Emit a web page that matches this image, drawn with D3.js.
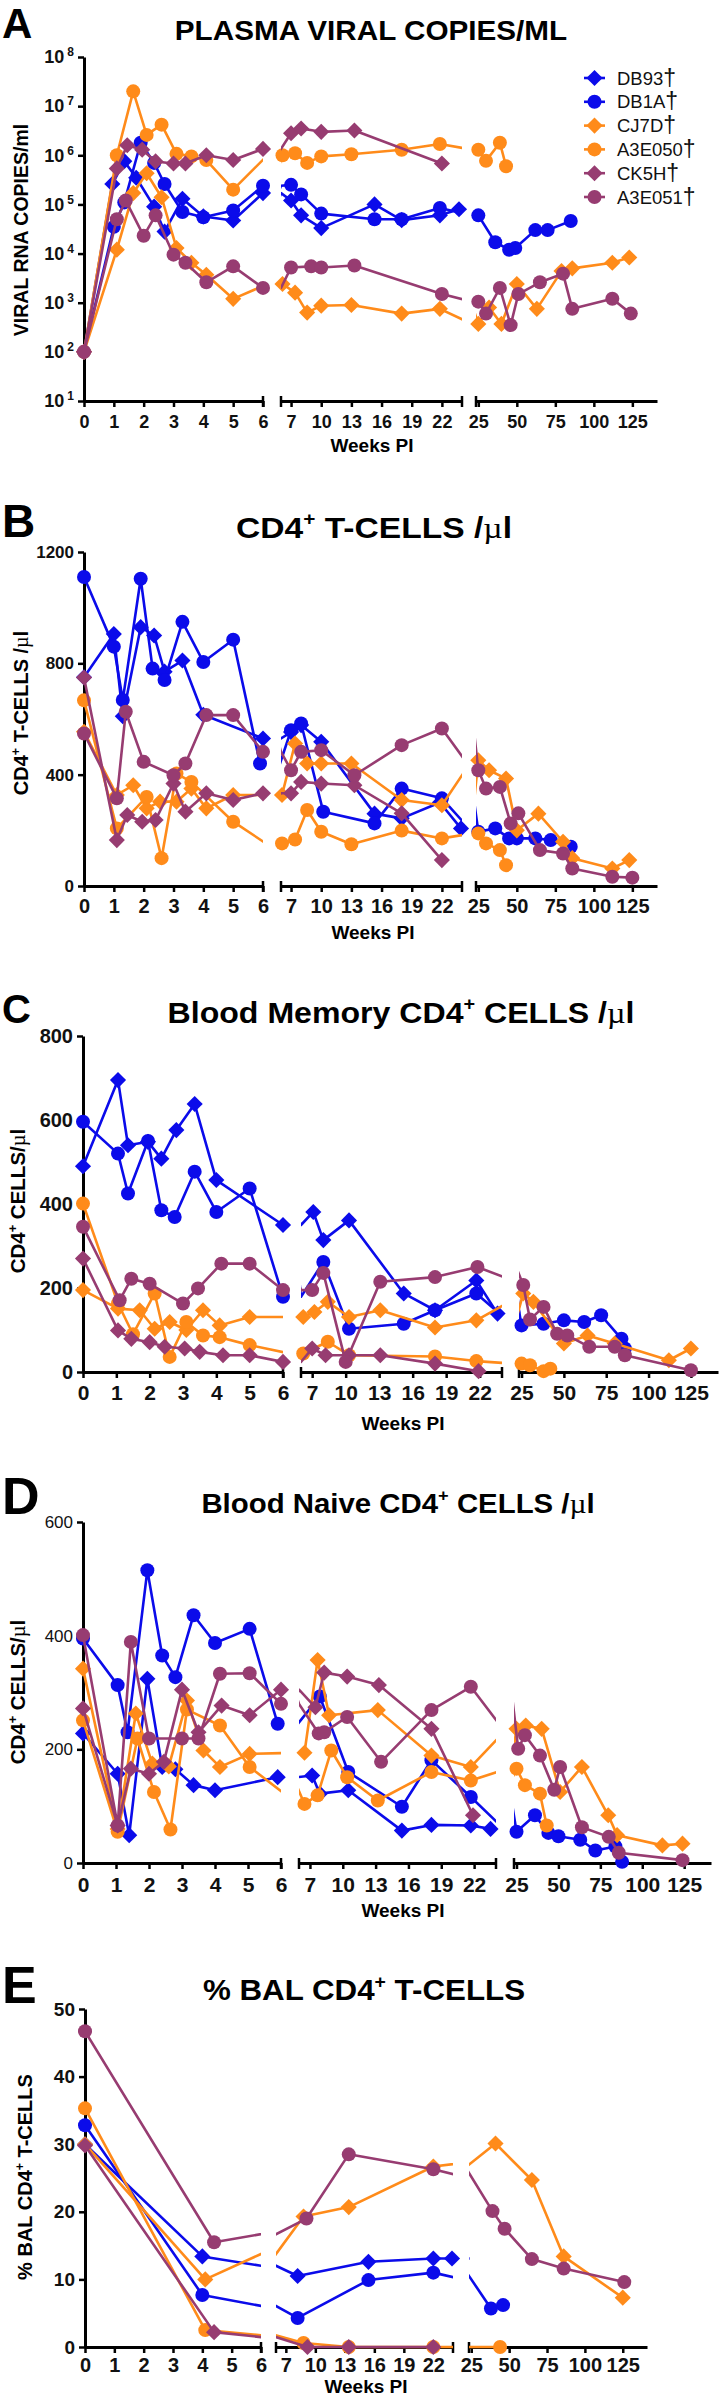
<!DOCTYPE html>
<html>
<head>
<meta charset="utf-8">
<script src="https://cdn.jsdelivr.net/npm/d3@7"></script>
<style>
  body { margin: 0; background: #fff; }
  svg { display: block; font-family: Arial, "Liberation Sans", sans-serif; }
</style>
</head>
<body>
<div id="chart"></div>
<script>
// animals, in legend order
var animals = ["DB93", "DB1A", "CJ7D", "A3E050", "CK5H", "A3E051"];

// x axis is broken in three pieces (weeks post infection)
var segDomains = [[0, 6], [6, 24], [23.5, 141]];
var segTicks = [[0, 1, 2, 3, 4, 5, 6], [7, 10, 13, 16, 19, 22], [25, 50, 75, 100, 125]];

// A: plasma viral RNA copies/ml  [week, copies]
var plasmaDB93 = [[0,1e2],[0.95,2.6e5],[1.35,7.6e5],[1.75,3.5e5],[2.35,9e4],[2.7,2.8e4],[3.3,1.3e5],[4,5.7e4],[5,4.7e4],[6,1.7e5],[7,1.2e5],[8,6e4],[10,3.3e4],[15.3,1e5],[18,4.8e4],[21.8,6e4],[23.7,8e4]];
var plasmaDB1A = [[0,1e2],[1,3.5e4],[1.35,1.1e5],[1.9,1.8e6],[2.35,7e5],[2.7,2.6e5],[3.3,7e4],[4,5.5e4],[5,7.5e4],[6,2.4e5],[7,2.5e5],[8,1.6e5],[10,6.5e4],[15.3,5e4],[18,5e4],[21.8,8.5e4],[25,6e4],[36,1.7e4],[45,1.2e4],[49,1.3e4],[62,3e4],[70,3e4],[85,4.6e4]];
var plasmaCJ7D = [[0,1e2],[1.1,1.2e4],[1.65,1.7e5],[2.1,4.3e5],[2.6,1.4e5],[3.1,1.3e4],[3.6,6.5e3],[4.1,3.7e3],[5,1.2e3],[6.15,2.4e3],[7.4,1.6e3],[8.6,6.3e2],[10,8.7e2],[13,9e2],[18,6e2],[21.8,7.5e2],[25,3.7e2],[32,8e2],[40,3.7e2],[50,2.4e3],[63,7.5e2],[79,4.4e3],[86,5e3],[112,6.5e3],[123,8.3e3]];
var plasmaA3E050 = [[0,1e2],[1.1,1e6],[1.65,2e7],[2.1,2.6e6],[2.6,4.2e6],[3.1,1.07e6],[3.6,9.5e5],[4.1,8e5],[5,2e5],[6.15,1e6],[7.4,1.1e6],[8.6,7e5],[10,9.5e5],[13,1.05e6],[18,1.3e6],[21.8,1.7e6],[25,1.3e6],[30,7.7e5],[39,1.8e6],[43,6e5]];
var plasmaCK5H = [[0,1e2],[1.1,5.4e5],[1.45,1.6e6],[1.95,1.3e6],[2.4,7.5e5],[3,6.8e5],[3.4,6.8e5],[4.1,1e6],[5,8e5],[6,1.35e6],[7,2.8e6],[8,3.5e6],[10,3e6],[13.3,3.2e6],[22,6.8e5]];
var plasmaA3E051 = [[0,1e2],[1.1,5e4],[1.4,1.2e5],[2,2.3e4],[2.4,6e4],[3,9.5e3],[3.4,6.5e3],[4.1,2.6e3],[5,5.5e3],[6,2e3],[7,5.2e3],[9,5.5e3],[10,5.2e3],[13.3,5.7e3],[22,1.5e3],[25,1.05e3],[30,6e2],[39,2e3],[46,3.5e2],[51,1.5e3],[65,2.6e3],[80,3.9e3],[86,7.5e2],[112,1.2e3],[124,6e2]];

// B: CD4+ T-cells /ul
var cd4DB93 = [[0,750],[1,905],[1.3,610],[1.9,930],[2.35,900],[2.7,770],[3.3,810],[4,615],[6,530],[7,553],[8,578],[10,518],[15.3,260],[18,243],[21.8,300],[23.9,207]];
var cd4DB1A = [[0,1110],[1,860],[1.3,668],[1.9,1104],[2.3,781],[2.7,740],[3.3,949],[4,805],[5,885],[5.9,440],[7,560],[8,584],[10.2,267],[15.3,225],[18,350],[22,315],[25,195],[36,207],[45,171],[50,171],[62,171],[72,165],[85,141]];
var cd4CJ7D = [[0,554],[1.1,327],[1.65,362],[2.1,279],[2.55,303],[3.1,303],[3.6,350],[4.1,279],[5,327],[6.1,327],[7.4,512],[8.6,440],[10,440],[13,440],[18,309],[22,290],[25,452],[32,416],[43,386],[50,200],[64,260],[80,159],[86,100],[112,63],[123,93]];
var cd4A3E050 = [[0,667],[1.1,207],[2.1,320],[2.6,100],[3.1,404],[3.6,374],[5,231],[6.1,153],[7.4,167],[8.6,273],[10,195],[13,150],[18,199],[22,171],[25,189],[30,153],[39,129],[43,75]];
var cd4CK5H = [[0,749],[1.1,165],[1.45,255],[1.95,231],[2.4,237],[3,368],[3.4,267],[4.1,333],[5,309],[6,333],[7,333],[8,374],[10,368],[13.3,362],[18,261],[22,93]];
var cd4A3E051 = [[0,548],[1.1,315],[1.4,626],[2,446],[3,398],[3.4,440],[4.1,614],[5,614],[6,482],[7,416],[8,482],[10,488],[13.3,398],[18,506],[22,566],[25,416],[30,350],[39,356],[46,225],[51,261],[65,129],[80,117],[86,63],[112,33],[125,30]];

// C: blood memory CD4+ cells /ul
var memDB93 = [[0,490],[1.05,695],[1.35,540],[1.95,548],[2.35,508],[2.8,576],[3.35,638],[4,457],[6,350],[7.1,381],[8,314],[10.3,361],[15.2,187],[18,147],[21.7,218],[23.6,139]];
var memDB1A = [[0,596],[1.05,520],[1.35,425],[1.95,550],[2.35,385],[2.75,369],[3.35,477],[4,381],[5,437],[6,179],[8,262],[10.3,103],[15.2,115],[18,147],[21.7,187],[25,111],[38,115],[50,123],[62,119],[72,135],[84,79],[86,56]];
var memCJ7D = [[0,195],[1.05,151],[1.7,147],[2.15,103],[2.6,119],[3.1,100],[3.6,147],[4.1,111],[5,131],[6.2,131],[7.2,143],[8.4,167],[10.3,131],[13.1,147],[18,106],[21.7,123],[26,187],[32,167],[50,68],[64,87],[80,68],[112,28],[125,56]];
var memA3E050 = [[0,401],[1.05,163],[1.5,90],[2.15,187],[2.6,36],[3.1,119],[3.6,87],[4.1,83],[5,64],[6.2,44],[8.4,72],[10.3,40],[18,37],[21.7,26],[25,20],[30,16],[38,2],[42,8]];
var memCK5H = [[0,270],[1.05,99],[1.45,79],[2,71],[2.45,60],[3.05,56],[3.5,48],[4.2,40],[5,40],[6,24],[7,56],[8.2,40],[10.3,40],[13.1,40],[18,20],[21.9,2]];
var memA3E051 = [[0,346],[1.1,171],[1.45,222],[2,210],[3,163],[3.45,199],[4.15,258],[5,258],[6,195],[7,195],[8,236],[10,24],[13.1,215],[18,226],[21.8,250],[26,207],[30,125],[38,155],[46,91],[52,87],[65,60],[80,60],[86,40],[125,4]];

// D: blood naive CD4+ cells /ul
var naiveDB93 = [[0,228],[1.05,157],[1.4,49],[1.95,324],[2.4,169],[2.8,165],[3.35,137],[4,128],[5.9,151],[7.2,154],[7.9,122],[10.5,128],[15.4,57],[18.1,67],[21.7,66],[23.5,60]];
var naiveDB1A = [[0,395],[1.05,313],[1.35,230],[1.95,515],[2.4,365],[2.8,327],[3.35,436],[4,387],[5.05,412],[5.9,245],[7.9,293],[10.5,160],[15.4,99],[18.1,181],[21.7,116],[25,55],[36,84],[44,53],[50,47],[63,41],[72,22],[84,29],[88,2]];
var naiveCJ7D = [[0,342],[1.05,60],[1.6,263],[2.1,175],[2.6,170],[3.15,286],[3.65,198],[4.15,169],[5.05,192],[6.5,194],[7.7,357],[8.75,260],[13.2,269],[18.1,189],[21.7,169],[25,236],[30.5,242],[40,236],[51,125],[64,169],[79.7,84],[85,49],[112,31],[124,34]];
var naiveA3E050 = [[0,251],[1.05,55],[1.65,219],[2.15,125],[2.65,59],[3.15,270],[4.15,242],[5.05,169],[6.5,104],[7.7,119],[8.95,198],[10.4,151],[13.2,110],[18.1,160],[21.7,145],[25,166],[30,137],[39,122],[43,66]];
var naiveCK5H = [[0,272],[1.05,66],[1.45,166],[2,157],[2.45,178],[3,305],[3.5,230],[4.2,277],[5.05,260],[6,305],[7.5,274],[8.3,335],[10.4,328],[13.3,313],[18.1,236],[21.9,84]];
var naiveA3E051 = [[0,401],[1.05,66],[1.45,389],[2,219],[3,219],[3.5,219],[4.15,333],[5.05,334],[6,280],[7.8,228],[8.3,230],[10.4,257],[13.5,178],[18.1,269],[21.7,310],[26,201],[30,225],[39,189],[47.5,129],[51,169],[64,63],[80,46],[86,18],[124,5]];

// E: % BAL CD4+ T-cells
var balDB93 = [[0,30],[4,13.4],[8.2,10.5],[15.4,12.6],[22,13.1],[23.9,13.1]];
var balDB1A = [[0,32.8],[4,7.7],[8.2,4.3],[15.4,9.9],[22,11],[38,5.7],[46,6.2]];
var balCJ7D = [[0,30],[4.1,10],[8.8,19.3],[13.4,20.7],[22,26.7],[41,30.1],[65,24.7],[86,13.4],[125,7.3]];
var balA3E050 = [[0,35.3],[4.1,2.5],[8.8,0.6],[13.4,0],[22,0],[44,0]];
var balCK5H = [[0,29.8],[4.4,2.2],[9.2,0],[13.4,0],[22,0]];
var balA3E051 = [[0,46.7],[4.4,15.5],[9.1,19],[13.4,28.5],[22,26.3],[39,20.1],[47,17.5],[65,13],[86,11.6],[126,9.6]];

var blue = "#0b0bea", orange = "#ff8b1a", purple = "#973c71";
var animalColor = { DB93: blue, DB1A: blue, CJ7D: orange, A3E050: orange, CK5H: purple, A3E051: purple };
var animalShape = { DB93: "diamond", DB1A: "circle", CJ7D: "diamond", A3E050: "circle", CK5H: "diamond", A3E051: "circle" };

var width = 719;
var height = 2399;

var svg = d3
  .select("#chart")
  .append("svg")
  .attr("width", width)
  .attr("height", height);
var defs = svg.append("defs");

var panels = [
  {
    id: "A", letterSize: 42, letterY: 38,
    title: [["PLASMA VIRAL COPIES/ML"]], titleSize: 28, titleStretch: 1.06, titleX: 371, titleY: 40,
    yLabel: [["VIRAL RNA COPIES/ml"]], yLabelSize: 19.5, yLabelX: 21, yLabelY: 230,
    y: d3.scaleLog().domain([10, 1e8]).range([401, 57]),
    yTicks: [1e1, 1e2, 1e3, 1e4, 1e5, 1e6, 1e7, 1e8], log: true, yTickSize: 18, yTickWeight: "bold",
    axisX: 84, segs: [[84, 263], [281, 462], [476, 657]], xTickSize: 18, xPad: 8,
    weeksX: 372, weeksY: 452,
    data: { DB93: plasmaDB93, DB1A: plasmaDB1A, CJ7D: plasmaCJ7D, A3E050: plasmaA3E050, CK5H: plasmaCK5H, A3E051: plasmaA3E051 },
    legend: true
  },
  {
    id: "B", letterSize: 46, letterY: 537,
    title: [["CD4"], ["+", "sup"], [" T-CELLS /"], ["\u00b5", "serif"], ["l"]], titleSize: 30, titleStretch: 1.12, titleX: 374, titleY: 538,
    yLabel: [["CD4"], ["+", "sup"], [" T-CELLS /"], ["\u00b5", "serif"], ["l"]], yLabelSize: 20, yLabelX: 21, yLabelY: 713,
    y: d3.scaleLinear().domain([0, 1200]).range([886, 552]),
    yTicks: [0, 400, 800, 1200], yTickSize: 17, yTickWeight: "bold",
    axisX: 84, segs: [[84, 263], [281, 462], [476, 657]], xTickSize: 20, xPad: 7,
    weeksX: 373, weeksY: 939,
    data: { DB93: cd4DB93, DB1A: cd4DB1A, CJ7D: cd4CJ7D, A3E050: cd4A3E050, CK5H: cd4CK5H, A3E051: cd4A3E051 }
  },
  {
    id: "C", letterSize: 40, letterY: 1023,
    title: [["Blood Memory CD4"], ["+", "sup"], [" CELLS /"], ["\u00b5", "serif"], ["l"]], titleSize: 30, titleStretch: 1.07, titleX: 401, titleY: 1023,
    yLabel: [["CD4"], ["+", "sup"], [" CELLS/"], ["\u00b5", "serif"], ["l"]], yLabelSize: 20.5, yLabelX: 18, yLabelY: 1201,
    y: d3.scaleLinear().domain([0, 800]).range([1372, 1036]),
    yTicks: [0, 200, 400, 600, 800], yTickSize: 20, yTickWeight: "bold",
    axisX: 83, segs: [[83, 283], [301, 502], [519, 718]], xTickSize: 21, xPad: 7,
    weeksX: 403, weeksY: 1430,
    data: { DB93: memDB93, DB1A: memDB1A, CJ7D: memCJ7D, A3E050: memA3E050, CK5H: memCK5H, A3E051: memA3E051 }
  },
  {
    id: "D", letterSize: 52, letterY: 1514,
    title: [["Blood Naive CD4"], ["+", "sup"], [" CELLS /"], ["\u00b5", "serif"], ["l"]], titleSize: 28, titleStretch: 1.05, titleX: 398, titleY: 1513,
    yLabel: [["CD4"], ["+", "sup"], [" CELLS/"], ["\u00b5", "serif"], ["l"]], yLabelSize: 20.5, yLabelX: 18, yLabelY: 1692,
    y: d3.scaleLinear().domain([0, 600]).range([1863, 1522]),
    yTicks: [0, 200, 400, 600], yTickSize: 17, yTickWeight: "normal",
    axisX: 83, segs: [[83, 281], [299, 496], [514, 711]], xTickSize: 21, xPad: 8,
    weeksX: 403, weeksY: 1917,
    data: { DB93: naiveDB93, DB1A: naiveDB1A, CJ7D: naiveCJ7D, A3E050: naiveA3E050, CK5H: naiveCK5H, A3E051: naiveA3E051 }
  },
  {
    id: "E", letterSize: 52, letterY: 2003,
    title: [["% BAL CD4"], ["+", "sup"], [" T-CELLS"]], titleSize: 29, titleStretch: 1.08, titleX: 364, titleY: 2000,
    yLabel: [["% BAL CD4"], ["+", "sup"], [" T-CELLS"]], yLabelSize: 20, yLabelX: 25, yLabelY: 2177,
    y: d3.scaleLinear().domain([0, 50]).range([2347, 2009]),
    yTicks: [0, 10, 20, 30, 40, 50], yTickSize: 19, yTickWeight: "bold",
    axisX: 85, segs: [[85, 261], [276, 453], [469, 647]], xTickSize: 20, xPad: 5,
    weeksX: 366, weeksY: 2393,
    data: { DB93: balDB93, DB1A: balDB1A, CJ7D: balCJ7D, A3E050: balA3E050, CK5H: balCK5H, A3E051: balA3E051 }
  }
];

// writes text pieces with superscripts / serif mu into a text element
var richText = function(sel, parts, size) {
  var raised = false;
  parts.forEach(function(p) {
    var t = sel.append("tspan").text(p[0]);
    if (p[1] === "sup") {
      t.attr("font-size", size * 0.62).attr("dy", -size * 0.42);
      raised = true;
    } else {
      if (raised) {
        t.attr("dy", size * 0.42);
        raised = false;
      }
      if (p[1] === "serif") t.attr("font-family", "'Liberation Serif', 'Times New Roman', serif").attr("font-weight", "normal");
    }
  });
};

var segOf = function(w) {
  return w <= 6 ? 0 : w <= 24 ? 1 : 2;
};

var drawMarker = function(g, shape, color, x, y) {
  if (shape === "circle") {
    g.append("circle").attr("cx", x).attr("cy", y).attr("r", 7).attr("fill", color);
  } else {
    g.append("path")
      .attr("d", d3.symbol().type(d3.symbolSquare).size(130)())
      .attr("transform", "translate(" + x + "," + y + ") rotate(45)")
      .attr("fill", color);
  }
};

panels.forEach(function(p) {
  var g = svg.append("g").attr("class", "panel");
  var y = p.y;
  var axisY = y.range()[0];
  var top = y.range()[1];
  var xs = p.segs.map(function(r, i) {
    return d3.scaleLinear().domain(segDomains[i]).range(r);
  });

  // panel letter + title
  g.append("text")
    .attr("x", 2)
    .attr("y", p.letterY)
    .attr("font-size", p.letterSize)
    .attr("font-weight", "bold")
    .text(p.id);
  var title = g.append("text")
    .attr("transform", "translate(" + p.titleX + "," + p.titleY + ") scale(" + p.titleStretch + ",1)")
    .attr("text-anchor", "middle")
    .attr("font-size", p.titleSize)
    .attr("font-weight", "bold");
  richText(title, p.title, p.titleSize);

  // y label
  var yl = g.append("text")
    .attr("transform", "translate(" + p.yLabelX + "," + p.yLabelY + ") rotate(-90)")
    .attr("text-anchor", "middle")
    .attr("dy", "0.35em")
    .attr("font-size", p.yLabelSize)
    .attr("font-weight", "bold");
  richText(yl, p.yLabel, p.yLabelSize);

  // y axis
  var yAxis = g.append("g")
    .attr("transform", "translate(" + p.axisX + ",0)")
    .call(d3.axisLeft(y).tickValues(p.yTicks).tickSize(6).tickSizeOuter(0).tickPadding(4)
      .tickFormat(p.log ? function() { return ""; } : d3.format("d")));
  yAxis.selectAll("text")
    .attr("font-size", p.yTickSize)
    .attr("font-weight", p.yTickWeight)
    .attr("font-family", "Arial, 'Liberation Sans', sans-serif")
    .attr("fill", "#111");
  if (p.log) {
    yAxis.selectAll(".tick text").each(function(d) {
      var t = d3.select(this);
      t.text("10");
      t.append("tspan")
        .attr("font-size", 12)
        .attr("dx", 3)
        .attr("dy", -7)
        .text(Math.round(Math.log10(d)));
    });
  }

  // x axes, one per piece
  xs.forEach(function(x, i) {
    var xa = g.append("g")
      .attr("transform", "translate(0," + axisY + ")")
      .call(d3.axisBottom(x).tickValues(segTicks[i]).tickFormat(d3.format("d"))
        .tickSize(6).tickSizeOuter(0).tickPadding(p.xPad));
    xa.selectAll("text")
      .attr("font-size", p.xTickSize)
      .attr("font-weight", "bold")
      .attr("font-family", "Arial, 'Liberation Sans', sans-serif")
      .attr("fill", "#111");
    var r = x.range();
    var caps = i === 0 ? [r[1]] : i === 1 ? [r[0], r[1]] : [r[0]];
    caps.forEach(function(cx) {
      xa.append("line")
        .attr("x1", cx).attr("x2", cx)
        .attr("y1", -5).attr("y2", 6)
        .attr("stroke", "#000")
        .attr("stroke-width", 2.5);
    });
  });
  g.selectAll(".domain").attr("stroke", "#000").attr("stroke-width", 3);
  g.selectAll(".tick line").attr("stroke", "#000").attr("stroke-width", 2.5);

  g.append("text")
    .attr("x", p.weeksX)
    .attr("y", p.weeksY)
    .attr("text-anchor", "middle")
    .attr("font-size", 19)
    .attr("font-weight", "bold")
    .text("Weeks PI");

  // clip rects per axis piece
  p.segs.forEach(function(r, i) {
    defs.append("clipPath")
      .attr("id", "clip" + p.id + i)
      .append("rect")
      .attr("x", i === 0 ? r[0] - 3 : r[0])
      .attr("y", top - 30)
      .attr("width", r[1] - r[0] + (i === 0 ? 3 : 0))
      .attr("height", axisY - top + 40);
  });

  // series: line in every piece (clipped), then markers
  animals.forEach(function(a) {
    var pts = p.data[a];
    var color = animalColor[a];
    var sg = g.append("g").attr("class", "series");
    xs.forEach(function(x, i) {
      var line = d3.line()
        .x(function(d) { return x(d[0]); })
        .y(function(d) { return y(d[1]); });
      sg.append("path")
        .attr("d", line(pts))
        .attr("clip-path", "url(#clip" + p.id + i + ")")
        .attr("fill", "none")
        .attr("stroke", color)
        .attr("stroke-width", 2.6)
        .attr("stroke-linejoin", "round");
    });
    pts.forEach(function(d) {
      drawMarker(sg, animalShape[a], color, xs[segOf(d[0])](d[0]), y(d[1]));
    });
  });

  if (p.legend) {
    var lg = g.append("g").attr("class", "legend");
    animals.forEach(function(a, i) {
      var ly = 78 + i * 23.8;
      lg.append("line")
        .attr("x1", 584).attr("x2", 605)
        .attr("y1", ly).attr("y2", ly)
        .attr("stroke", animalColor[a])
        .attr("stroke-width", 2.6);
      drawMarker(lg, animalShape[a], animalColor[a], 594.5, ly);
      var t = lg.append("text")
        .attr("x", 617)
        .attr("y", ly + 6.5)
        .attr("font-size", 18.5)
        .attr("fill", "#111")
        .text(a);
      t.append("tspan")
        .attr("font-size", 23)
        .attr("dy", 1)
        .text("\u2020");
    });
  }
});
</script>
</body>
</html>
